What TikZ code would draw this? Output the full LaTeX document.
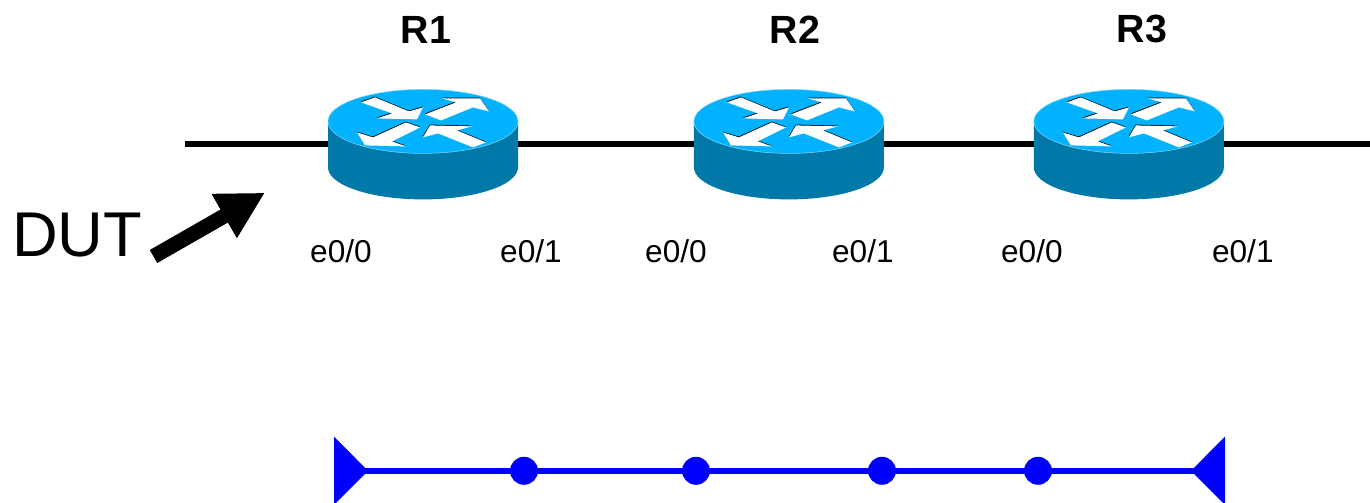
\documentclass[tikz,border=0pt]{standalone}
\usepackage{fontspec}
\setmainfont{Liberation Sans}
\usepackage{xcolor}
\usepackage{tikz}
\usetikzlibrary{positioning,arrows.meta}

\definecolor{routertop}{RGB}{0,178,255}
\definecolor{routerside}{RGB}{0,120,168}
\definecolor{routeredge}{RGB}{130,215,250}
\definecolor{busblue}{RGB}{0,0,255}

\tikzset{
  router/.style={minimum width=3.8cm, minimum height=2.2cm, inner sep=0pt, outer sep=0pt},
  link/.style={line width=0.12cm, black},
  iface/.style={font=\fontsize{18}{20}\selectfont, inner sep=0pt},
  rname/.style={font=\fontsize{22.4}{24}\selectfont\bfseries, inner sep=0pt},
  busdot/.style={circle, fill=busblue, minimum size=0.56cm, inner sep=0pt, outer sep=0pt},
  bus/.style={line width=0.13cm, busblue, {Triangle[reversed,length=0.68cm,width=1.34cm]}-{Triangle[reversed,length=0.68cm,width=1.34cm]}},
}

\newcommand{\routerarrow}[1]{
  \fill[black, shift={(-0.3,-0.8)}] #1 -- cycle;
  \fill[white] #1 -- cycle;
}

\begin{document}
\begin{tikzpicture}[x=0.02cm, y=0.02cm]
        \useasboundingbox (0,0) rectangle (1370,503);

        \node[router] (R1) at (423,358.6) {};
        \node[router] (R2) [right = 3.52cm of R1] {};
        \node[router] (R3) [right = 3cm of R2] {};

        \node[coordinate] (inL) [left = 2.86cm of R1.west] {};
        \node[coordinate] (outR) [right = 2.92cm of R3.east] {};

        \draw[link] (inL) -- (R1.west);
        \draw[link] (R1.east) -- (R2.west);
        \draw[link] (R2.east) -- (R3.west);
        \draw[link] (R3.east) -- (outR);

        \foreach \r in {R1,R2,R3} {
          \begin{scope}[shift=(\r.center)]
            \fill[routerside] (-95,23) -- (-95,-23) arc[start angle=180, end angle=360, x radius=95, y radius=32] -- (95,23) -- cycle;
            \draw[routeredge, line width=0.3pt, fill=routertop] (0,23) ellipse[x radius=95, y radius=32];
            \begin{scope}[shift={(0,23)}, yscale=-1]
              \routerarrow{(-62,-19) -- (-48,-24) -- (-14,-10) -- (0,-14) -- (-6,-2) -- (-46,-3) -- (-31,-8)}
              \routerarrow{(2,-7) -- (33,-19) -- (19,-23) -- (57,-23) -- (66,-10) -- (50,-14) -- (18,-1)}
              \routerarrow{(-3,6) -- (-17,1) -- (-50,16) -- (-66,11) -- (-58,24) -- (-17,25) -- (-31,20)}
              \routerarrow{(0,16) -- (7,4) -- (49,5) -- (34,9) -- (63,21) -- (50,26) -- (15,12)}
            \end{scope}
          \end{scope}
        }

        \node[rname] (nameA) [above = 0.92cm of R1.north, xshift=0.06cm] {R1};
        \node[rname] (nameB) [above = 0.92cm of R2.north, xshift=0.12cm] {R2};
        \node[rname] (nameC) [above = 0.92cm of R3.north, xshift=0.26cm] {R3};

        \node[iface] (R1e0) [below = 0.8cm of R1.south west, xshift=0.26cm] {e0/0};
        \node[iface] (R1e1) [below = 0.8cm of R1.south east, xshift=0.26cm] {e0/1};
        \node[iface] (R2e0) [below = 0.8cm of R2.south west, xshift=-0.36cm] {e0/0};
        \node[iface] (R2e1) [below = 0.8cm of R2.south east, xshift=-0.42cm] {e0/1};
        \node[iface] (R3e0) [below = 0.8cm of R3.south west, xshift=-0.04cm] {e0/0};
        \node[iface] (R3e1) [below = 0.8cm of R3.south east, xshift=0.38cm] {e0/1};

        \node[font=\fontsize{36}{40}\selectfont, inner sep=0pt] (DUT) at (77,268) {DUT};
        \coordinate (dutTail) at (153.5,246.5);
        \coordinate (dutTip) at (265,310.3);
        \draw[line width=0.3cm, -{Triangle[length=0.94cm,width=0.95cm]}] (dutTail) -- (dutTip);

        \coordinate (busL) at (334,32.2);
        \node[busdot] (d1) at (524,32.2) {};
        \node[busdot] (d2) at (696,32.2) {};
        \node[busdot] (d3) at (882,32.2) {};
        \node[busdot] (d4) at (1038,32.2) {};
        \coordinate (busR) at (1225,32.2);
        \draw[bus] (busL) -- (busR);
    \end{tikzpicture}
\end{document}
